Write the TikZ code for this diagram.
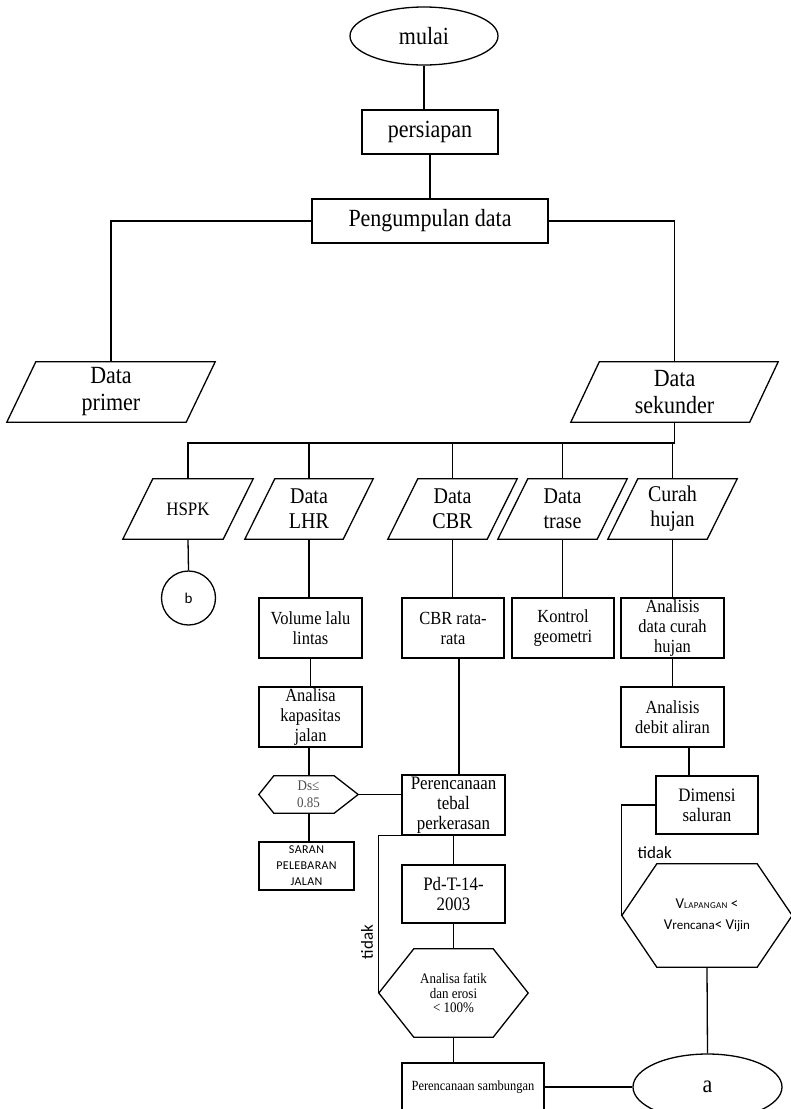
\documentclass[tikz,border=0pt]{standalone}
\usepackage{fontspec}
\setmainfont[FakeStretch=0.89]{Liberation Serif}
\newfontfamily\calibfont{Carlito}
\newfontfamily\capsfont[LetterSpace=3]{Carlito}
\usetikzlibrary{shapes.geometric,calc}

% outline of a slanted input/output box around a plain node
\newcommand\slantbox[2]{%
  \draw[flow] (#1.south west) -- ([xshift=#2pt]#1.north west) -- (#1.north east)
    -- ([xshift=-#2pt]#1.south east) -- cycle;}
% outline of a decision hexagon around a plain node (left and right insets)
\newcommand\hexbox[3]{%
  \draw[flow] (#1.west) -- ([xshift=#2pt]#1.north west) -- ([xshift=-#3pt]#1.north east)
    -- (#1.east) -- ([xshift=-#3pt]#1.south east) -- ([xshift=#2pt]#1.south west) -- cycle;}

\tikzset{
  flow/.style={line width=1.3pt, line join=miter},
  box/.style={draw, flow, rectangle, inner sep=0pt, align=center},
  plain/.style={rectangle, inner sep=0pt, align=center},
  oval/.style={draw, flow, ellipse, inner sep=0pt},
  big/.style={font=\fontsize{24.7}{27}\selectfont},
  mid/.style={font=\fontsize{22.5}{25}\selectfont},
  body/.style={font=\fontsize{18.5}{20}\selectfont},
  small/.style={font=\fontsize{14.6}{14.5}\selectfont},
  sans/.style={font=\calibfont\fontsize{17}{20}\selectfont},
}

\begin{document}
\begin{tikzpicture}[x=1pt,y=-1pt]
\useasboundingbox (0,0) rectangle (791,1109);

% main spine
\node[oval, big, minimum width=148pt, minimum height=58pt] (mulai) at (424,36) {mulai};
\node[box, big, minimum width=136pt, minimum height=44pt] (persiapan) at (430,132) {persiapan};
\node[box, big, minimum width=236pt, minimum height=44pt] (peng) at (430,221) {Pengumpulan data};

% primary and secondary data
\node[plain, big, minimum width=208pt, minimum height=60pt] (primer) at (111,392) {Data\\primer};
\node[plain, big, minimum width=207pt, minimum height=60pt] (sekunder) at (674.5,392) {Data\\sekunder};
\slantbox{primer}{29}
\slantbox{sekunder}{28.5}

% secondary data items
\node[plain, font=\fontsize{19}{20}\selectfont, minimum width=130pt, minimum height=60pt] (hspk) at (188,509) {HSPK};
\node[plain, mid, minimum width=128pt, minimum height=60pt] (lhr) at (309,509) {Data\\LHR};
\node[plain, mid, minimum width=129pt, minimum height=60pt] (cbr) at (452.5,509) {Data\\CBR};
\node[plain, mid, minimum width=129pt, minimum height=60pt] (trase) at (562.5,509) {Data\\trase};
\node[plain, mid, minimum width=129pt, minimum height=60pt] (curah) at (672.5,509) {Curah\\hujan};
\foreach \n in {hspk,lhr,cbr,trase,curah} {\slantbox{\n}{30}}

\node[draw, flow, circle, inner sep=0pt, minimum size=54pt, font=\calibfont\fontsize{15}{15}\selectfont] (b) at (188.5,598) {b};

% processing steps
\node[box, body, minimum width=103pt, minimum height=60pt] (volume) at (310.5,628) {Volume lalu\\lintas};
\node[box, body, minimum width=102pt, minimum height=60pt] (cbrrata) at (453,628) {CBR rata-\\rata};
\node[box, body, minimum width=102pt, minimum height=60pt] (kontrol) at (563,628) {Kontrol\\geometri};
\node[box, body, minimum width=103pt, minimum height=60pt] (anadata) at (672.5,628) {Analisis\\data curah\\hujan};
\node[box, body, minimum width=103pt, minimum height=60pt] (kapasitas) at (310.5,717) {Analisa\\kapasitas\\jalan};
\node[box, body, minimum width=103pt, minimum height=60pt] (debit) at (672.5,717) {Analisis\\debit aliran};

\node[plain, font=\fontsize{14.6}{17}\selectfont, text=black!70, minimum width=99pt, minimum height=37pt] (ds) at (308.5,794.5) {Ds≤\\0.85};
\hexbox{ds}{15}{24}

\node[box, font=\fontsize{19}{20}\selectfont, minimum width=103pt, minimum height=60pt] (tebal) at (453.5,805) {Perencanaan\\tebal\\perkerasan};
\node[box, font=\fontsize{19}{20}\selectfont, minimum width=102pt, minimum height=58pt] (dimensi) at (707,805) {Dimensi\\saluran};
\node[box, font=\capsfont\fontsize{12}{16}\selectfont, minimum width=95pt, minimum height=48pt] (saran) at (306.5,866) {SARAN\\PELEBARAN\\JALAN};
\node[box, font=\fontsize{19}{20}\selectfont, minimum width=103pt, minimum height=58pt] (pd) at (453.5,894) {Pd-T-14-\\2003};

\node[plain, small, minimum width=149pt, minimum height=88pt] (fatik) at (453.5,993) {Analisa fatik\\dan erosi\\< 100\%};
\hexbox{fatik}{35}{35}

\node[plain, font=\calibfont\fontsize{15}{21}\selectfont, minimum width=170pt, minimum height=103pt] (vhex) at (707,915.5)
  {V{\fontsize{9}{9}\selectfont\addfontfeature{LetterSpace=4}LAPANGAN} <\\V{\fontsize{13}{13}\selectfont rencana}< V{\fontsize{13}{13}\selectfont ijin}};
\hexbox{vhex}{35}{35}

\node[box, font=\fontsize{14}{15}\selectfont, minimum width=142pt, minimum height=48pt] (samb) at (473,1087) {Perencanaan sambungan};
\node[oval, big, minimum width=149pt, minimum height=66pt] (a) at (707.5,1087) {a};

% loop-back labels
\node[sans, rotate=90] (tidakL) at (367,942) {tidak};
\node[sans, anchor=west] (tidakR) at (634,853) {tidak};

% connectors
\coordinate (bus) at (674.5,443);
\draw[flow] (mulai.south) -- (mulai.south |- persiapan.north);
\draw[flow] (persiapan.south) -- (peng.north);
\draw[flow] (peng.west) -| (primer.north);
\draw[flow] (peng.east) -| (sekunder.north);
\draw[flow] (sekunder.south) -- (bus) -| (hspk.north);
\foreach \n in {lhr,cbr,trase,curah} {\draw[flow] (bus -| \n.north) -- (\n.north);}

\draw[flow] (hspk.south) -- (b.north);
\draw[flow] (lhr.south) -- (lhr.south |- volume.north);
\draw[flow] (cbr.south) -- (cbr.south |- cbrrata.north);
\draw[flow] (trase.south) -- (trase.south |- kontrol.north);
\draw[flow] (curah.south) -- (curah.south |- anadata.north);

\draw[flow] (volume.south) -- (kapasitas.north);
\draw[flow] ([xshift=-1.5pt]kapasitas.south) -- ([xshift=-1.5pt]kapasitas.south |- ds.north);
\draw[flow] (ds.east) -- (ds.east -| tebal.west);
\draw[flow] ([xshift=0.5pt]ds.south) -- ([xshift=0.5pt]ds.south |- saran.north);

\draw[flow] ([xshift=6pt]cbrrata.south) -- ([xshift=6pt]cbrrata.south |- tebal.north);
\draw[flow] (tebal.south) -- (pd.north);
\draw[flow] (pd.south) -- (fatik.north);
\draw[flow] (fatik.south) -- (fatik.south |- samb.north);
\draw[flow] (samb.east) -- (a.west);

\draw[flow] (anadata.south) -- (debit.north);
\draw[flow] ([xshift=16.5pt]debit.south) -- ([xshift=16.5pt]debit.south |- dimensi.north);
\draw[flow] (vhex.south) -- (a.north);

% "tidak" loops
\draw[flow] (tebal.south west) -| (fatik.west);
\draw[flow] (dimensi.west) -| (vhex.west);
\end{tikzpicture}
\end{document}
